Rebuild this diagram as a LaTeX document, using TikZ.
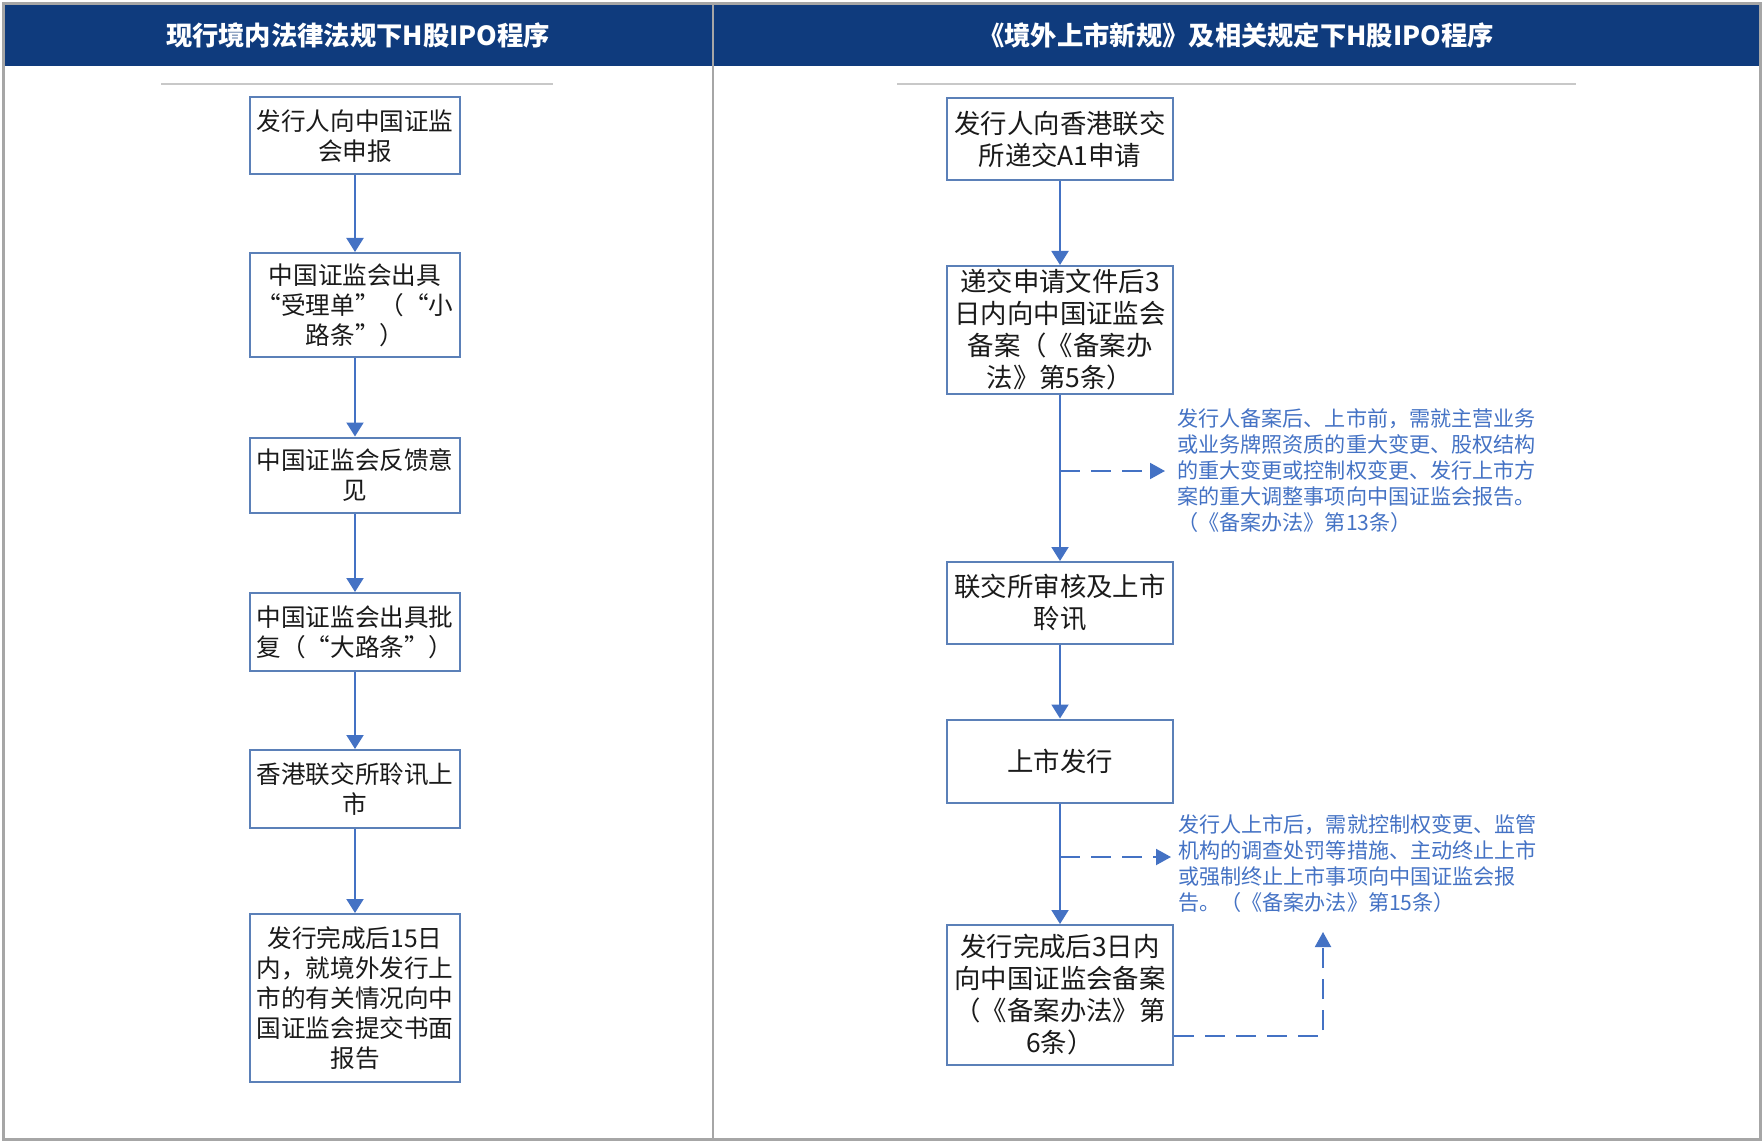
\documentclass[tikz,border=0pt]{standalone}
\usepackage{fontspec}
\setmainfont{Noto Sans CJK SC}
\usetikzlibrary{arrows.meta}

\definecolor{hdblue}{HTML}{0F3B7D}
\definecolor{lnblue}{HTML}{4472C4}
\definecolor{bxblue}{HTML}{5B80B8}
\definecolor{frgray}{HTML}{A6A6A6}
\definecolor{rlgray}{HTML}{C8C8C8}
\definecolor{txtgray}{HTML}{1A1A1A}

\begin{document}
\begin{tikzpicture}[x=1pt, y=-1pt,
    lbox/.style={draw=bxblue, line width=2pt, minimum width=210pt, inner sep=0pt, align=center, text=txtgray, font=\fontsize{24.6}{30}\selectfont},
    rbox/.style={lbox, minimum width=226pt, font=\fontsize{26.4}{32}\selectfont},
    flow/.style={draw=lnblue, line width=2pt, -{Triangle[length=14pt,width=17pt]}},
    dflow/.style={draw=lnblue, line width=2pt, dash pattern=on 20pt off 11pt, -{Triangle[length=15pt,width=16pt]}},
    note/.style={anchor=west, align=left, inner sep=0pt, text=lnblue, font=\fontsize{21.1}{26}\selectfont},
    head/.style={text=white, font=\fontsize{26.3}{30}\selectfont\bfseries}]
    \useasboundingbox (0,0) rectangle (1762,1142);

    \fill[hdblue] (3,4) rectangle (1760,66);
    \draw[line width=2pt, frgray] (713,4) -- (713,1139);
    \draw[line width=3pt, frgray] (3,4) rectangle (1760,1139);
    \node[head] (hl) at (358,35) {现行境内法律法规下H股IPO程序};
    \node[head] (hr) at (1236,35) {《境外上市新规》及相关规定下H股IPO程序};
    \draw[line width=2pt, rlgray] (161,84) -- (553,84);
    \draw[line width=2pt, rlgray] (897,84) -- (1576,84);

    \node[lbox, minimum height=77pt] (l1) at (355,136) {发行人向中国证监\\会申报};
    \node[lbox, minimum height=104pt] (l2) at (355,305) {中国证监会出具\\“受理单”（“小\\路条”）};
    \node[lbox, minimum height=75pt] (l3) at (355,475) {中国证监会反馈意\\见};
    \node[lbox, minimum height=78pt] (l4) at (355,632) {中国证监会出具批\\复（“大路条”）};
    \node[lbox, minimum height=78pt] (l5) at (355,789) {香港联交所聆讯上\\市};
    \node[lbox, minimum height=168pt] (l6) at (355,998) {发行完成后15日\\内，就境外发行上\\市的有关情况向中\\国证监会提交书面\\报告};
    \foreach \a/\b in {l1/l2, l2/l3, l3/l4, l4/l5, l5/l6}
        \draw[flow] (\a) -- (\b);

    \node[rbox, minimum height=82pt] (r1) at (1060,139) {发行人向香港联交\\所递交A1申请};
    \node[rbox, minimum height=128pt] (r2) at (1060,330) {递交申请文件后3\\日内向中国证监会\\备案（《备案办\\法》第5条）};
    \node[rbox, minimum height=82pt] (r3) at (1060,603) {联交所审核及上市\\聆讯};
    \node[rbox, minimum height=83pt] (r4) at (1060,761) {上市发行};
    \node[rbox, minimum height=140pt] (r5) at (1060,995) {发行完成后3日内\\向中国证监会备案\\（《备案办法》第\\6条）};
    \foreach \a/\b in {r1/r2, r2/r3, r3/r4, r4/r5}
        \draw[flow] (\a) -- (\b);

    \node[note] (n1) at (1177,471) {发行人备案后、上市前，需就主营业务\\或业务牌照资质的重大变更、股权结构\\的重大变更或控制权变更、发行上市方\\案的重大调整事项向中国证监会报告。\\（《备案办法》第13条）};
    \node[note] (n2) at (1178,864) {发行人上市后，需就控制权变更、监管\\机构的调查处罚等措施、主动终止上市\\或强制终止上市事项向中国证监会报\\告。（《备案办法》第15条）};
    \coordinate (d1) at (1060,471);
    \coordinate (d2) at (1060,857);
    \coordinate (up) at (1323,932);
    \draw[dflow] (d1) -- ([xshift=-12pt]d1 -| n1.west);
    \draw[dflow] (d2) -- ([xshift=-7pt]d2 -| n2.west);
    \draw[dflow] (r5.east |- 0,1036) -| (up);
\end{tikzpicture}
\end{document}
